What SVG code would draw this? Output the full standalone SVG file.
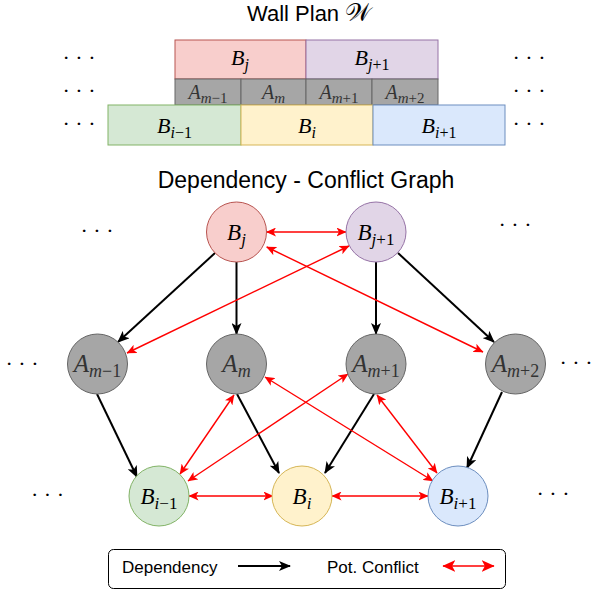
<svg xmlns="http://www.w3.org/2000/svg" width="592" height="593" viewBox="0 0 592 593">
<defs>
<style>
.t{font-family:"Liberation Sans",Arial,sans-serif;fill:#000}
.m{font-family:"Liberation Serif","Times New Roman",serif;font-style:italic;text-anchor:middle}
.u{font-style:normal}
.dots{font-family:"Liberation Serif",serif;font-size:22px;text-anchor:middle;fill:#000}
.g{fill:#333}
.dep{stroke:#000;stroke-width:2;fill:none;marker-end:url(#ab)}
.con{stroke:#ff0000;stroke-width:1.4;fill:none;marker-end:url(#ar);marker-start:url(#ar)}
.red{fill:#f8cecc;stroke:#b85450}
.pur{fill:#e1d5e7;stroke:#9673a6}
.grn{fill:#d5e8d4;stroke:#82b366}
.yel{fill:#fff2cc;stroke:#d6b656}
.blu{fill:#dae8fc;stroke:#6c8ebf}
.gry{fill:#a6a6a6;stroke:#666666}
</style>
<marker id="ab" viewBox="0 0 12 10" refX="11" refY="5" markerWidth="12" markerHeight="10" markerUnits="userSpaceOnUse" orient="auto"><path d="M0,0 L12,5 L0,10 L3,5 Z" fill="#000"/></marker>
<marker id="ar" viewBox="0 0 10 9" refX="9.5" refY="4.5" markerWidth="10" markerHeight="9" markerUnits="userSpaceOnUse" orient="auto-start-reverse"><path d="M0,0 L10,4.5 L0,9 L2.5,4.5 Z" fill="#ff0000"/></marker>
<marker id="arL" viewBox="0 0 10 9" refX="9.5" refY="4.5" markerWidth="13" markerHeight="12" markerUnits="userSpaceOnUse" orient="auto-start-reverse"><path d="M0,0 L10,4.5 L0,9 L2.5,4.5 Z" fill="#ff0000"/></marker>
</defs>
<rect width="592" height="593" fill="#fff"/>

<!-- Wall plan -->
<text class="t" x="247" y="21" font-size="22">Wall Plan <tspan font-family="'Liberation Serif','DejaVu Serif',serif" font-size="25">𝒲</tspan></text>
<g id="wall">
<rect class="red" x="175" y="40" width="131" height="39"/>
<rect class="pur" x="306" y="40" width="132" height="39"/>
<rect class="gry" x="175" y="79" width="66" height="26"/>
<rect class="gry" x="241" y="79" width="65" height="26"/>
<rect class="gry" x="306" y="79" width="66" height="26"/>
<rect class="gry" x="372" y="79" width="66" height="26"/>
<rect class="grn" x="108" y="105" width="133" height="40"/>
<rect class="yel" x="241" y="105" width="132" height="40"/>
<rect class="blu" x="373" y="105" width="132" height="40"/>
<text class="m" x="240" y="65" font-size="22">B<tspan font-size="16" dy="5">j</tspan></text>
<text class="m" x="372" y="65" font-size="22">B<tspan font-size="16" dy="5">j<tspan class="u">+1</tspan></tspan></text>
<text class="m g" x="208" y="99" font-size="20">A<tspan font-size="15" dy="4">m<tspan class="u">−1</tspan></tspan></text>
<text class="m g" x="273.5" y="99" font-size="20">A<tspan font-size="15" dy="4">m</tspan></text>
<text class="m g" x="339" y="99" font-size="20">A<tspan font-size="15" dy="4">m<tspan class="u">+1</tspan></tspan></text>
<text class="m g" x="405" y="99" font-size="20">A<tspan font-size="15" dy="4">m<tspan class="u">+2</tspan></tspan></text>
<text class="m" x="174.5" y="133" font-size="22">B<tspan font-size="16" dy="5">i<tspan class="u">−1</tspan></tspan></text>
<text class="m" x="307" y="133" font-size="22">B<tspan font-size="16" dy="5">i</tspan></text>
<text class="m" x="439" y="133" font-size="22">B<tspan font-size="16" dy="5">i<tspan class="u">+1</tspan></tspan></text>
<text class="dots" x="79" y="65">· · ·</text>
<text class="dots" x="79" y="98">· · ·</text>
<text class="dots" x="79" y="131">· · ·</text>
<text class="dots" x="529" y="65">· · ·</text>
<text class="dots" x="529" y="98">· · ·</text>
<text class="dots" x="529" y="131">· · ·</text>
</g>

<text class="t" x="306" y="188" font-size="23" text-anchor="middle">Dependency - Conflict Graph</text>

<!-- connectors -->
<g id="connectors">
<line class="dep" x1="215" y1="253" x2="118" y2="342"/>
<line class="dep" x1="236.5" y1="262" x2="236.5" y2="334"/>
<line class="dep" x1="376" y1="262" x2="376" y2="334"/>
<line class="dep" x1="398" y1="253" x2="494" y2="342"/>
<line class="dep" x1="97" y1="394" x2="137" y2="477"/>
<line class="dep" x1="237" y1="394" x2="279" y2="473"/>
<line class="dep" x1="374" y1="394" x2="325" y2="473"/>
<line class="dep" x1="502" y1="392" x2="467" y2="468"/>
<line class="con" x1="266.5" y1="232" x2="346" y2="232"/>
<line class="con" x1="266.7" y1="247" x2="483" y2="352"/>
<line class="con" x1="349" y1="246" x2="127" y2="353"/>
<line class="con" x1="234" y1="395" x2="180" y2="474"/>
<line class="con" x1="348" y1="374" x2="188" y2="481"/>
<line class="con" x1="265" y1="377" x2="433" y2="481"/>
<line class="con" x1="377" y1="395" x2="437" y2="473"/>
<line class="con" x1="189" y1="496" x2="273" y2="496"/>
<line class="con" x1="332" y1="496" x2="428" y2="496"/>
</g>

<!-- nodes -->
<g id="Bj"><circle class="red" cx="236.5" cy="232" r="30"/><text class="m" x="236.5" y="240" font-size="23">B<tspan font-size="17" dy="5">j</tspan></text></g>
<g id="Bj1"><circle class="pur" cx="376" cy="232" r="30"/><text class="m" x="376" y="240" font-size="23">B<tspan font-size="17" dy="5">j<tspan class="u">+1</tspan></tspan></text></g>
<g id="Am1"><circle class="gry" cx="97.5" cy="364" r="30"/><text class="m g" x="97.5" y="372" font-size="25">A<tspan font-size="18" dy="5">m<tspan class="u">−1</tspan></tspan></text></g>
<g id="Am"><circle class="gry" cx="236.5" cy="364" r="30"/><text class="m g" x="236.5" y="372" font-size="25">A<tspan font-size="18" dy="5">m</tspan></text></g>
<g id="Amp1"><circle class="gry" cx="376" cy="364" r="30"/><text class="m g" x="376" y="372" font-size="25">A<tspan font-size="18" dy="5">m<tspan class="u">+1</tspan></tspan></text></g>
<g id="Amp2"><circle class="gry" cx="515.5" cy="364" r="30"/><text class="m g" x="515.5" y="372" font-size="25">A<tspan font-size="18" dy="5">m<tspan class="u">+2</tspan></tspan></text></g>
<g id="Bi1"><circle class="grn" cx="159" cy="496" r="30"/><text class="m" x="159" y="504" font-size="23">B<tspan font-size="17" dy="5">i<tspan class="u">−1</tspan></tspan></text></g>
<g id="Bi"><circle class="yel" cx="302" cy="496" r="30"/><text class="m" x="302" y="504" font-size="23">B<tspan font-size="17" dy="5">i</tspan></text></g>
<g id="Bip1"><circle class="blu" cx="458" cy="496" r="30"/><text class="m" x="458" y="504" font-size="23">B<tspan font-size="17" dy="5">i<tspan class="u">+1</tspan></tspan></text></g>

<g id="dots">
<text class="dots" x="97" y="238">· · ·</text>
<text class="dots" x="515" y="232">· · ·</text>
<text class="dots" x="22" y="371">· · ·</text>
<text class="dots" x="576" y="370" font-size="21">· · ·</text>
<text class="dots" x="47.5" y="502">· · ·</text>
<text class="dots" x="553" y="501">· · ·</text>
</g>

<!-- legend -->
<g id="legend">
<rect x="108.5" y="549.5" width="397" height="39" rx="5" fill="#fff" stroke="#000" stroke-width="1"/>
<text class="t" x="122" y="573" font-size="17">Dependency</text>
<line class="dep" x1="238" y1="566" x2="290" y2="566"/>
<text class="t" x="327" y="573" font-size="17">Pot. Conflict</text>
<line x1="443" y1="566" x2="494" y2="566" stroke="#ff0000" stroke-width="1.6" marker-start="url(#arL)" marker-end="url(#arL)"/>
</g>
</svg>
